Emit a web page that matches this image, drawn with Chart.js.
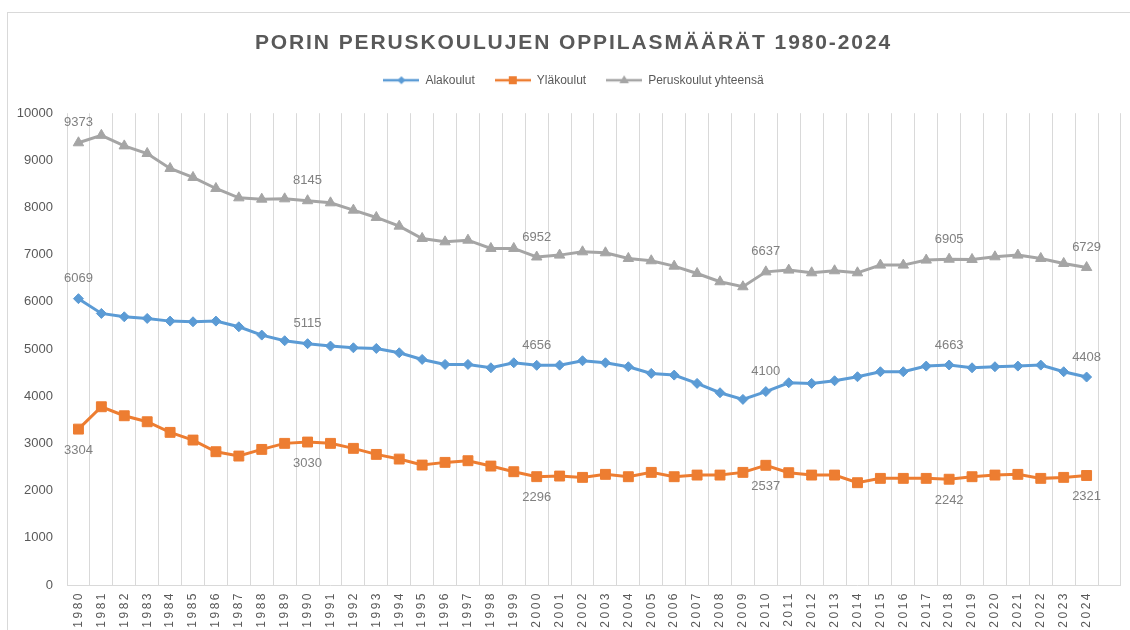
<!DOCTYPE html>
<html><head><meta charset="utf-8">
<script src="https://cdn.jsdelivr.net/npm/chart.js@4.4.1/dist/chart.umd.min.js"></script>
<style>html,body{margin:0;padding:0;background:#fff;}#wrap{width:1130px;height:630px;}</style>
</head><body><div id="wrap"><canvas id="c" width="1130" height="630"></canvas></div>
<script>
const years = [1980,1981,1982,1983,1984,1985,1986,1987,1988,1989,1990,1991,1992,1993,1994,1995,1996,1997,1998,1999,2000,2001,2002,2003,2004,2005,2006,2007,2008,2009,2010,2011,2012,2013,2014,2015,2016,2017,2018,2019,2020,2021,2022,2023,2024];
const alakoulut = [6069,5756,5685,5650,5593,5579,5593,5473,5297,5177,5115,5064,5028,5014,4922,4781,4675,4675,4604,4710,4656,4660,4753,4710,4626,4485,4449,4273,4075,3934,4100,4287,4273,4329,4414,4520,4520,4640,4663,4604,4626,4640,4661,4520,4408];
const ylakoulut = [3304,3778,3587,3460,3235,3072,2825,2733,2874,3002,3030,3002,2896,2768,2669,2542,2599,2634,2521,2401,2296,2309,2281,2345,2295,2387,2295,2330,2330,2387,2537,2380,2330,2330,2168,2260,2260,2260,2242,2295,2330,2345,2260,2281,2321];
const yhteensa = [9373,9530,9307,9146,8828,8638,8404,8206,8178,8185,8145,8100,7945,7790,7606,7345,7274,7309,7133,7133,6952,6992,7062,7041,6921,6872,6758,6603,6427,6321,6637,6674,6617,6660,6617,6780,6780,6886,6905,6900,6956,6992,6921,6815,6729];
const labelYears = [1980,1990,2000,2010,2018,2024];
const seriesNames = ['Alakoulut','Yläkoulut','Peruskoulut yhteensä'];
const titleText = 'PORIN PERUSKOULUJEN OPPILASMÄÄRÄT 1980-2024';

const FONT = '"Liberation Sans", Arial, sans-serif';
const TXT = '#595959';

function legendImg(color, style, r) {
  const c = document.createElement('canvas');
  c.width = 36; c.height = 14;
  const x = c.getContext('2d');
  x.strokeStyle = color; x.fillStyle = color; x.lineWidth = 2.5;
  x.beginPath(); x.moveTo(0, 7); x.lineTo(36, 7); x.stroke();
  x.beginPath();
  if (style === 'rectRot') { x.moveTo(18 - r, 7); x.lineTo(18, 7 - r); x.lineTo(18 + r, 7); x.lineTo(18, 7 + r); }
  else if (style === 'rect') { x.rect(18 - r, 7 - r, 2 * r, 2 * r); }
  else { x.moveTo(18, 7 - r); x.lineTo(18 + r * 0.95, 7 + r * 0.6); x.lineTo(18 - r * 0.95, 7 + r * 0.6); }
  x.closePath(); x.fill();
  return c;
}

const SHIFT = 6;
const helper = {
  id: 'helper',
  beforeLayout(chart) {
    const lg = chart.legend;
    if (lg && !lg.__w) {
      const f = lg.fit.bind(lg);
      lg.fit = function () { f(); this.height += 17; };
      const dr = lg.draw.bind(lg);
      lg.draw = function (a) { const ctx = chart.ctx; ctx.save(); ctx.translate(SHIFT, 0); dr(a); ctx.restore(); };
      lg.__w = true;
    }
  },
  afterLayout(chart) {
    const tb = chart.titleBlock;
    if (tb && !tb.__w) {
      const d = tb.draw.bind(tb);
      tb.draw = function (a) { const ctx = chart.ctx; ctx.save(); ctx.translate(SHIFT, 0); ctx.letterSpacing = '1.9px'; d(a); ctx.restore(); };
      tb.__w = true;
    }
    const sx = chart.scales.x;
    if (sx && !sx.__w) {
      const dl = sx.drawLabels.bind(sx);
      sx.drawLabels = function (a) { const ctx = chart.ctx; ctx.save(); ctx.letterSpacing = '2.5px'; dl(a); ctx.restore(); };
      sx.__w = true;
    }
  },
  beforeDraw(chart) {
    const ctx = chart.ctx;
    ctx.save();
    ctx.fillStyle = '#fff';
    ctx.fillRect(0, 0, chart.width, chart.height);
    ctx.strokeStyle = '#d9d9d9';
    ctx.lineWidth = 1;
    ctx.strokeRect(7.5, 12.5, 1200, 700);
    ctx.restore();
  },
  afterDatasetsDraw(chart) {
    const ctx = chart.ctx;
    ctx.save();
    ctx.font = '13px ' + FONT;
    ctx.fillStyle = '#808080';
    ctx.textAlign = 'center';
    ctx.textBaseline = 'middle';
    chart.data.datasets.forEach((ds, di) => {
      const meta = chart.getDatasetMeta(di);
      labelYears.forEach(yr => {
        const i = years.indexOf(yr);
        const p = meta.data[i];
        if (p) ctx.fillText(String(ds.data[i]), p.x, p.y + ds.labelOffset);
      });
    });
    ctx.restore();
  }
};

const styles = [
  { color: '#5B9BD5', pointStyle: 'rectRot', radius: 5, off: -20, img: legendImg('#5B9BD5', 'rectRot', 4) },
  { color: '#ED7D31', pointStyle: 'rect', radius: 7, off: 21, img: legendImg('#ED7D31', 'rect', 4) },
  { color: '#A5A5A5', pointStyle: 'triangle', radius: 6, off: -20, img: legendImg('#A5A5A5', 'triangle', 5) }
];
const seriesData = [alakoulut, ylakoulut, yhteensa];

new Chart(document.getElementById('c'), {
  type: 'line',
  data: {
    labels: years.map(String).concat(['']),
    datasets: seriesData.map((d, i) => ({
      label: seriesNames[i],
      data: d,
      borderColor: styles[i].color,
      backgroundColor: styles[i].color,
      borderWidth: 3,
      pointStyle: styles[i].pointStyle,
      pointRadius: styles[i].radius,
      pointBorderWidth: 1,
      pointBackgroundColor: styles[i].color,
      pointBorderColor: styles[i].color,
      tension: 0,
      labelOffset: styles[i].off
    }))
  },
  options: {
    responsive: false,
    animation: false,
    layout: { padding: { left: 10, right: 5, top: 0, bottom: 0 } },
    plugins: {
      tooltip: { enabled: false },
      title: {
        display: true,
        text: titleText,
        color: TXT,
        font: { family: FONT, size: 21, weight: 'bold', lineHeight: 1.2 },
        padding: { top: 31, bottom: -2 }
      },
      legend: {
        display: true,
        position: 'top',
        labels: {
          usePointStyle: true,
          pointStyleWidth: 36,
          boxHeight: 12,
          padding: 20,
          color: TXT,
          font: { family: FONT, size: 12 },
          generateLabels(chart) {
            return chart.data.datasets.map((ds, i) => ({
              text: ds.label,
              pointStyle: styles[i].img,
              fillStyle: styles[i].color,
              strokeStyle: styles[i].color,
              lineWidth: 0,
              fontColor: TXT,
              hidden: false,
              datasetIndex: i
            }));
          }
        }
      }
    },
    scales: {
      x: {
        offset: true,
        afterFit(s) { s.height = 45; },
        grid: { display: true, offset: true, color: '#d9d9d9', lineWidth: 1, drawTicks: false, tickLength: 0 },
        border: { display: true, color: '#d9d9d9', width: 1 },
        ticks: {
          autoSkip: false, minRotation: 90, maxRotation: 90, padding: 6,
          color: TXT, font: { family: FONT, size: 12 }
        }
      },
      y: {
        min: 0, max: 10000,
        afterFit(s) { s.width = 57; },
        grid: { display: false, drawTicks: false, tickLength: 0 },
        border: { display: false },
        ticks: { stepSize: 1000, padding: 14, color: TXT, font: { family: FONT, size: 13 }, callback: v => String(v) }
      }
    }
  },
  plugins: [helper]
});
</script>
</body></html>
